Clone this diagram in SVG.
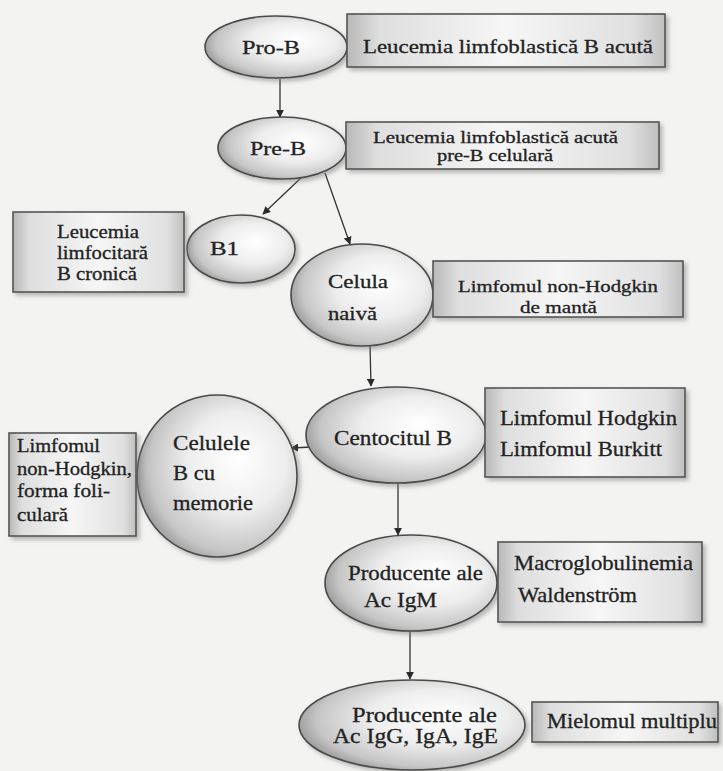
<svg xmlns="http://www.w3.org/2000/svg" width="723" height="771" viewBox="0 0 723 771">
  <defs>
    <radialGradient id="cellFill" cx="0.6" cy="0.45" r="0.62" fx="0.64" fy="0.38">
      <stop offset="0" stop-color="#ffffff"/>
      <stop offset="0.5" stop-color="#ededed"/>
      <stop offset="0.85" stop-color="#c6c6c6"/>
      <stop offset="1" stop-color="#9a9a9a"/>
    </radialGradient>
    <linearGradient id="boxFill" x1="0" y1="0" x2="1" y2="0">
      <stop offset="0" stop-color="#b8b8b8"/>
      <stop offset="0.1" stop-color="#dedede"/>
      <stop offset="0.5" stop-color="#f6f6f6"/>
      <stop offset="0.9" stop-color="#e0e0e0"/>
      <stop offset="1" stop-color="#c0c0c0"/>
    </linearGradient>
    <filter id="shadow" x="-10%" y="-10%" width="125%" height="130%">
      <feDropShadow dx="3" dy="3" stdDeviation="2.2" flood-color="#7a7a7a" flood-opacity="0.5"/>
    </filter>
    <marker id="arrow" viewBox="0 0 10 10" refX="9" refY="5" markerWidth="8" markerHeight="8" markerUnits="userSpaceOnUse" orient="auto">
      <path d="M0,0 L10,5 L0,10 z" fill="#2a2a2a"/>
    </marker>
    <style>
      .cell { fill: url(#cellFill); stroke: #4a4a4a; stroke-width: 1.6; filter: url(#shadow); }
      .box { fill: url(#boxFill); stroke: #555555; stroke-width: 1.6; filter: url(#shadow); }
      .link { stroke: #333333; stroke-width: 1.3; fill: none; marker-end: url(#arrow); }
      text { fill: #222222; stroke: #222222; stroke-width: 0.3; }
    </style>
  </defs>

  <rect width="723" height="771" fill="#f3f3f1"/>

  <!-- connectors -->
  <g id="connectors">
    <line class="link" x1="280" y1="79" x2="280" y2="117"/>
    <line class="link" x1="303" y1="176" x2="263" y2="214"/>
    <line class="link" x1="325" y1="173" x2="350" y2="244"/>
    <line class="link" x1="370" y1="345" x2="371" y2="386"/>
    <line class="link" x1="312" y1="447" x2="291" y2="448"/>
    <line class="link" x1="398" y1="482" x2="398" y2="535"/>
    <line class="link" x1="410" y1="630" x2="410" y2="679"/>
  </g>

  <g font-family="'Liberation Serif', 'DejaVu Serif', serif">
  <!-- cell stages -->
  <g id="pro-b">
    <ellipse class="cell" cx="276" cy="47" rx="71" ry="31"/>
    <text x="242" y="54" font-size="19" textLength="58" lengthAdjust="spacingAndGlyphs">Pro-B</text>
  </g>
  <g id="pre-b">
    <ellipse class="cell" cx="282" cy="148" rx="64" ry="31"/>
    <text x="250" y="155" font-size="19" textLength="56" lengthAdjust="spacingAndGlyphs">Pre-B</text>
  </g>
  <g id="b1">
    <ellipse class="cell" cx="241" cy="249" rx="54" ry="34"/>
    <text x="210" y="255" font-size="18" textLength="29" lengthAdjust="spacingAndGlyphs">B1</text>
  </g>
  <g id="celula-naiva">
    <ellipse class="cell" cx="362" cy="295" rx="71" ry="51"/>
    <text x="328" y="288" font-size="19" textLength="60" lengthAdjust="spacingAndGlyphs">Celula</text>
    <text x="328" y="320" font-size="19" textLength="49" lengthAdjust="spacingAndGlyphs">naivă</text>
  </g>
  <g id="centocitul-b">
    <ellipse class="cell" cx="396" cy="435" rx="90" ry="48"/>
    <text x="334" y="445" font-size="20" textLength="118" lengthAdjust="spacingAndGlyphs">Centocitul B</text>
  </g>
  <g id="celule-memorie">
    <ellipse class="cell" cx="217" cy="476" rx="80" ry="81"/>
    <text x="173" y="450" font-size="21" textLength="77" lengthAdjust="spacingAndGlyphs">Celulele</text>
    <text x="173" y="480" font-size="21" textLength="42" lengthAdjust="spacingAndGlyphs">B cu</text>
    <text x="173" y="510" font-size="21" textLength="80" lengthAdjust="spacingAndGlyphs">memorie</text>
  </g>
  <g id="producente-igm">
    <ellipse class="cell" cx="411" cy="583" rx="86" ry="48"/>
    <text x="348" y="580" font-size="20" textLength="135" lengthAdjust="spacingAndGlyphs">Producente ale</text>
    <text x="364" y="607" font-size="20" textLength="73" lengthAdjust="spacingAndGlyphs">Ac IgM</text>
  </g>
  <g id="producente-igg">
    <ellipse class="cell" cx="412" cy="725" rx="113" ry="45"/>
    <text x="352" y="722" font-size="20" textLength="145" lengthAdjust="spacingAndGlyphs">Producente  ale</text>
    <text x="333" y="743" font-size="20" textLength="165" lengthAdjust="spacingAndGlyphs">Ac IgG, IgA, IgE</text>
  </g>

  <!-- associated diseases -->
  <g id="d-pro-b">
    <rect class="box" x="347" y="14" width="318" height="53"/>
    <text x="363" y="53" font-size="19" textLength="290" lengthAdjust="spacingAndGlyphs">Leucemia limfoblastică B acută</text>
  </g>
  <g id="d-pre-b">
    <rect class="box" x="346" y="122" width="313" height="47"/>
    <text x="373" y="143" font-size="16" textLength="245" lengthAdjust="spacingAndGlyphs">Leucemia limfoblastică acută</text>
    <text x="437" y="161" font-size="16" textLength="116" lengthAdjust="spacingAndGlyphs">pre-B celulară</text>
  </g>
  <g id="d-b1">
    <rect class="box" x="13" y="212" width="171" height="80"/>
    <text x="57" y="238" font-size="18" textLength="82" lengthAdjust="spacingAndGlyphs">Leucemia</text>
    <text x="57" y="259" font-size="18" textLength="91" lengthAdjust="spacingAndGlyphs">limfocitară</text>
    <text x="57" y="280" font-size="18" textLength="80" lengthAdjust="spacingAndGlyphs">B cronică</text>
  </g>
  <g id="d-celula-naiva">
    <rect class="box" x="433" y="261" width="250" height="56"/>
    <text x="458" y="292" font-size="17" textLength="200" lengthAdjust="spacingAndGlyphs">Limfomul non-Hodgkin</text>
    <text x="520" y="313" font-size="17" textLength="77" lengthAdjust="spacingAndGlyphs">de mantă</text>
  </g>
  <g id="d-centocitul">
    <rect class="box" x="485" y="388" width="200" height="89"/>
    <text x="500" y="425" font-size="21" textLength="177" lengthAdjust="spacingAndGlyphs">Limfomul Hodgkin</text>
    <text x="500" y="456" font-size="21" textLength="162" lengthAdjust="spacingAndGlyphs">Limfomul Burkitt</text>
  </g>
  <g id="d-memorie">
    <rect class="box" x="9" y="433" width="127" height="103"/>
    <text x="17" y="452" font-size="18" textLength="83" lengthAdjust="spacingAndGlyphs">Limfomul</text>
    <text x="17" y="475" font-size="18" textLength="115" lengthAdjust="spacingAndGlyphs">non-Hodgkin,</text>
    <text x="17" y="497" font-size="18" textLength="93" lengthAdjust="spacingAndGlyphs">forma foli-</text>
    <text x="17" y="521" font-size="18" textLength="51" lengthAdjust="spacingAndGlyphs">culară</text>
  </g>
  <g id="d-igm">
    <rect class="box" x="498" y="542" width="204" height="80"/>
    <text x="514" y="570" font-size="21" textLength="179" lengthAdjust="spacingAndGlyphs">Macroglobulinemia</text>
    <text x="518" y="602" font-size="21" textLength="119" lengthAdjust="spacingAndGlyphs">Waldenström</text>
  </g>
  <g id="d-igg">
    <rect class="box" x="532" y="702" width="186" height="40"/>
    <text x="547" y="728" font-size="20" textLength="170" lengthAdjust="spacingAndGlyphs">Mielomul multiplu</text>
  </g>
  </g>
</svg>
